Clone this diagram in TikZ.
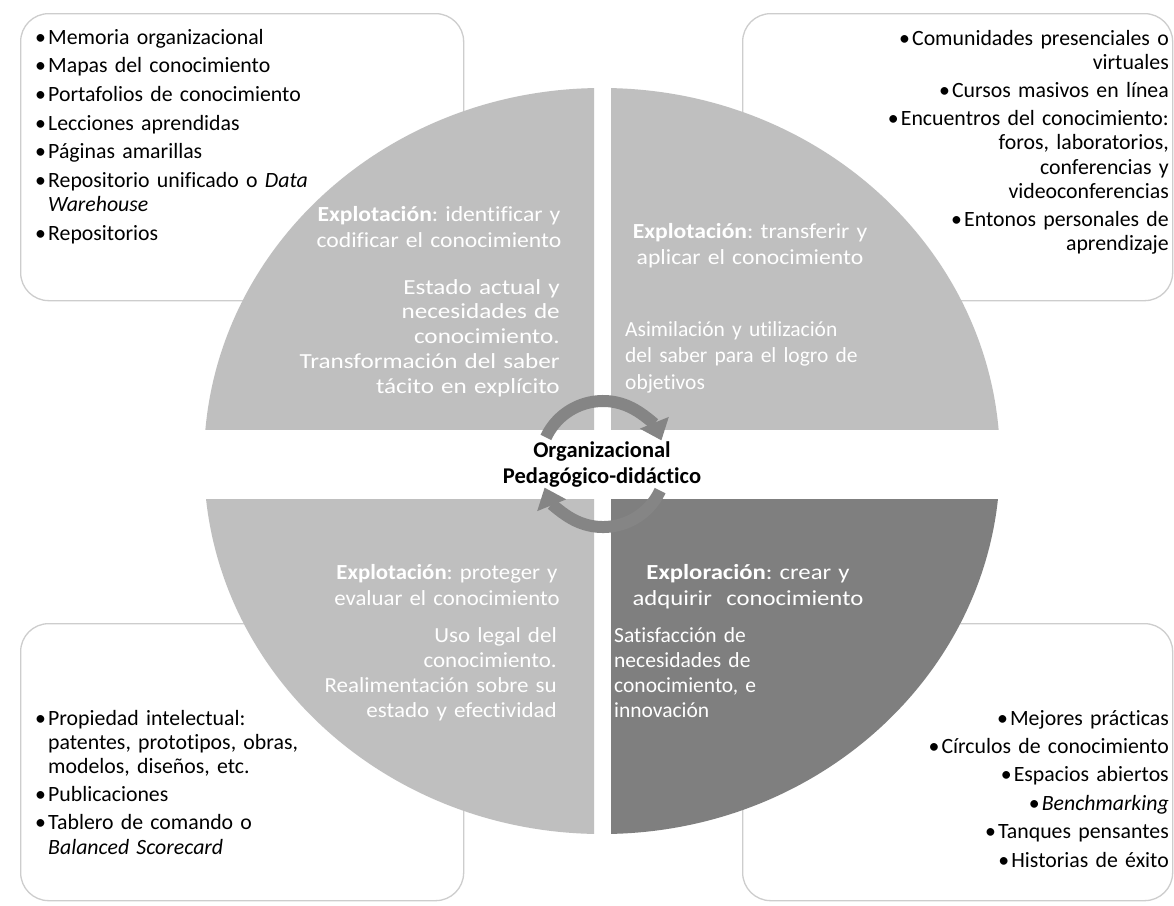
\documentclass[tikz,border=0pt]{standalone}
\usepackage{fontspec}
\setmainfont{Carlito}[Ligatures=NoCommon]
\usetikzlibrary{arrows.meta}
\definecolor{quad}{HTML}{BFBFBF}
\definecolor{quaddark}{HTML}{7F7F7F}
\definecolor{boxline}{HTML}{CDCDCD}
\definecolor{arrowgray}{HTML}{858585}
\newcommand\bl{\makebox[13pt][l]{•}}
\newcommand\qf[3]{\fontsize{#1}{#2}\selectfont\addfontfeatures{FakeStretch=#3}}
\frenchspacing
\begin{document}
\frenchspacing
\begin{tikzpicture}[x=1pt,y=-1pt,
  listbox/.style={draw=boxline, line width=1.3pt, fill=white, rounded corners=28pt, anchor=north west},
  listtext/.style={inner sep=0pt, font=\fontsize{21.8}{24.4}\selectfont\frenchspacing, text=black, text width=420pt},
  quadtext/.style={inner sep=0pt, text=white, text width=320pt},
  cyc/.style={draw=arrowgray, line width=12pt, -{Triangle[width=30pt,length=19pt]}}]
\useasboundingbox (0,0) rectangle (1174,905);
\fill[white] (0,0) rectangle (1174,905);
% corner boxes
\node[listbox, minimum width=443pt, minimum height=287pt] (boxTL) at (20,13) {};
\node[listbox, minimum width=430pt, minimum height=287pt] (boxTR) at (742,13) {};
\node[listbox, minimum width=443pt, minimum height=277pt] (boxBL) at (20,623) {};
\node[listbox, minimum width=430pt, minimum height=277pt] (boxBR) at (742,623) {};
% quadrants
\begin{scope}\clip (0,0) rectangle (594,429);
  \fill[quad] (602,461) ellipse [x radius=398pt, y radius=373pt];\end{scope}
\begin{scope}\clip (611,0) rectangle (1174,429);
  \fill[quad] (602,461) ellipse [x radius=398pt, y radius=373pt];\end{scope}
\begin{scope}\clip (0,499) rectangle (594,905);
  \fill[quad] (602,461) ellipse [x radius=398pt, y radius=373pt];\end{scope}
\begin{scope}\clip (611,499) rectangle (1174,905);
  \fill[quaddark] (602,461) ellipse [x radius=398pt, y radius=373pt];\end{scope}
% quadrant texts
\node[quadtext, anchor=base, align=center, font=\qf{21.5}{26}{1.1}] (qTLh) at (439,221) {\textbf{Explotación}: identificar y\\codificar el conocimiento};
\node[quadtext, anchor=base east, align=right, font=\qf{21.5}{24.8}{1.17}] (qTLb) at (560,294) {Estado actual y\\necesidades de\\conocimiento.\\Transformación del saber\\tácito en explícito};
\node[quadtext, anchor=base, align=center, font=\qf{21.5}{26}{1.1}] (qTRh) at (750,238) {\textbf{Explotación}: transferir y\\aplicar el conocimiento};
\node[quadtext, anchor=base west, align=left, font=\qf{21.5}{26.5}{1.0}] (qTRb) at (625,336) {Asimilación y utilización\\del saber para el logro de\\objetivos};
\node[quadtext, anchor=base, align=center, font=\qf{21.5}{26}{1.06}] (qBLh) at (447,579) {\textbf{Explotación}: proteger y\\evaluar el conocimiento};
\node[quadtext, anchor=base east, align=right, font=\qf{21.5}{25}{1.07}] (qBLb) at (557,642) {Uso legal del\\conocimiento.\\Realimentación sobre su\\estado y efectividad};
\node[quadtext, anchor=base, align=center, font=\qf{21.5}{26}{1.15}] (qBRh) at (748,579) {\textbf{Exploración}: crear y\\adquirir\ \ conocimiento};
\node[quadtext, anchor=base west, align=left, font=\qf{21.5}{25}{1.0}] (qBRb) at (614,642) {Satisfacción de\\necesidades de\\conocimiento, e\\innovación};
% lists
\node[listtext, anchor=base west, align=left] (listTL) at (35,44) {\bl Memoria organizacional\\[4.3pt]
\bl Mapas del conocimiento\\[4.3pt]
\bl Portafolios de conocimiento\\[4.3pt]
\bl Lecciones aprendidas\\[4.3pt]
\bl Páginas amarillas\\[4.3pt]
\bl Repositorio unificado o \textit{Data}\\
\hspace*{13pt}\textit{Warehouse}\\[4.3pt]
\bl Repositorios};
\node[listtext, anchor=base east, align=right] (listTR) at (1169,45) {\bl Comunidades presenciales o\\ virtuales\\[3.5pt]
\bl Cursos masivos en línea\\[3.5pt]
\bl Encuentros del conocimiento:\\ foros, laboratorios,\\ conferencias y\\ videoconferencias\\[3.5pt]
\bl Entonos personales de\\ aprendizaje};
\node[listtext, anchor=base west, align=left] (listBL) at (35,725) {\bl Propiedad intelectual:\\
\hspace*{13pt}patentes, prototipos, obras,\\
\hspace*{13pt}modelos, diseños, etc.\\[3.5pt]
\bl Publicaciones\\[3.5pt]
\bl Tablero de comando o\\
\hspace*{13pt}\textit{Balanced Scorecard}};
\node[listtext, anchor=base east, align=right] (listBR) at (1169,725) {\bl Mejores prácticas\\[4pt]
\bl Círculos de conocimiento\\[4pt]
\bl Espacios abiertos\\[4pt]
\bl \textit{Benchmarking}\\[4pt]
\bl Tanques pensantes\\[4pt]
\bl Historias de éxito};
% cycle arrows
\coordinate (cc) at (603,464);
\draw[cyc] (cc) ++(155:63pt) arc[start angle=155, end angle=22, radius=63pt];
\draw[cyc] (cc) ++(-25:63pt) arc[start angle=-25, end angle=-158, radius=63pt];
% centre text
\node[inner sep=0pt, font=\fontsize{22.5}{26}\selectfont\bfseries, align=center, anchor=base] (centre) at (602,483) {Organizacional\\Pedagógico-didáctico};
\end{tikzpicture}
\end{document}
